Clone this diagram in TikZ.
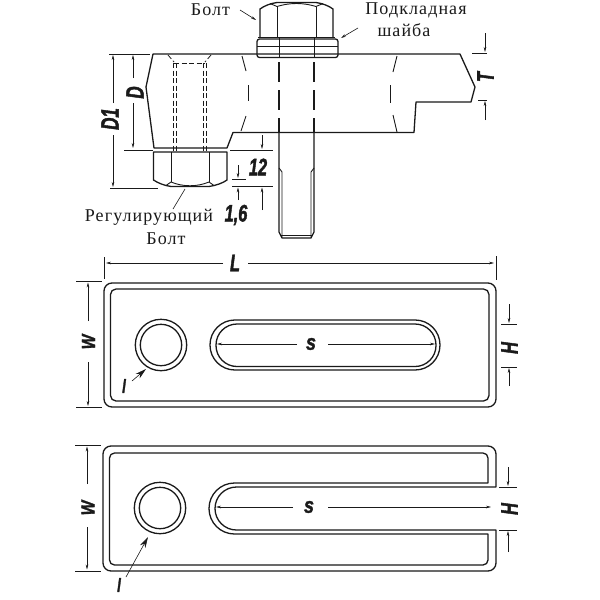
\documentclass[tikz,border=0pt]{standalone}
\usepackage{fontspec}
\setmainfont{Liberation Serif}
\newfontfamily\capfont[LetterSpace=6]{Liberation Serif}
\newfontfamily\dimfont[FakeStretch=0.68,FakeBold=1.6]{Liberation Sans}
\newfontfamily\widefont[FakeStretch=0.82,FakeBold=1.6]{Liberation Sans}
\usetikzlibrary{arrows.meta}
\definecolor{ink}{HTML}{1A1A1A}
\tikzset{
  x=1pt,y=-1pt,
  outline/.style={draw=ink,line width=1.3pt,line join=round},
  thinline/.style={draw=ink,line width=0.9pt},
  hidden/.style={draw=ink,line width=0.8pt,dash pattern=on 5pt off 2.5pt},
  longdash/.style={draw=ink,line width=1.1pt,dash pattern=on 20pt off 8pt},
  ext/.style={draw=ink,line width=0.8pt},
  dimline/.style={draw=ink,line width=0.6pt,-{Stealth[length=5pt,width=2.6pt]}},
  bigarrow/.style={draw=ink,line width=0.6pt,-{Stealth[length=11pt,width=6pt]}},
  caption/.style={font=\capfont\fontsize{18}{18}\selectfont,text=ink,inner sep=0pt},
  dimlabel/.style={font=\dimfont\bfseries\itshape\fontsize{#1}{#1}\selectfont,text=ink,inner sep=0pt},
  widelabel/.style={font=\widefont\bfseries\itshape\fontsize{#1}{#1}\selectfont,text=ink,inner sep=0pt},
  vert/.style={rotate=90},
}
\begin{document}
\begin{tikzpicture}
\useasboundingbox (0,0) rectangle (600,600);
\fill[white] (0,0) rectangle (600,600);

% ---- side view: body
\draw[outline] (153,54) -- (146,87) -- (154,148) -- (227,148) -- (233,132.5) -- (414,132.5)
  -- (416,102) -- (471,102) -- (475,87) -- (460,54) -- cycle;
% break lines
\draw[thinline] (242,56) -- (246,71);
\draw[thinline] (248.5,85) -- (248.5,101);
\draw[thinline] (246,116) -- (241,131);
\draw[thinline] (397,56) -- (393,72);
\draw[thinline] (390.5,85) -- (390.5,103);
\draw[thinline] (393,115) -- (397,132);
% hidden threaded hole
\draw[hidden] (168,55) -- (174,62);
\draw[hidden] (211,55) -- (205,62);
\draw[hidden] (174,63) -- (205,63);
\foreach \hx in {173,176,203,206} \draw[hidden] (\hx,63) -- (\hx,152);

% lower nut
\draw[outline] (153.5,152) -- (227,152) -- (227,180) .. controls (223,183) and (216,185.5) .. (209,186.5)
  -- (171,186.5) .. controls (164,185.5) and (158,183) .. (153.5,180) -- cycle;
\draw[thinline] (171,152) -- (171,182);
\draw[thinline] (209,152) -- (209,182);
\draw[thinline] (171,182) .. controls (183,187) and (197,187) .. (209,182);
\draw[thinline] (171,182) -- (166,185.5);
\draw[thinline] (209,182) -- (214,185.5);

% upper bolt head
\draw[outline] (260,37) -- (260,9) .. controls (264,6) and (270,3.5) .. (277,2.5) -- (316,2.5)
  .. controls (323,3.5) and (329,6) .. (333,9) -- (333,37);
\draw[thinline] (277,37) -- (277,6.5);
\draw[thinline] (316,37) -- (316,6.5);
\draw[thinline] (277,6.5) .. controls (290,2.5) and (303,2.5) .. (316,6.5);
\draw[thinline] (270,3.5) -- (277,6.5);
\draw[thinline] (323,3.5) -- (316,6.5);
% washer
\draw[outline,rounded corners=2.5pt] (257,39) rectangle (338,57.5);
\draw[thinline] (258,37.5) -- (335,37.5);
\draw[thinline] (257,46) -- (338,46);
\draw[thinline] (279,38) -- (279,57);
\draw[thinline] (314,38) -- (314,57);
% shaft
\draw[longdash] (279,62) -- (279,132);
\draw[longdash] (314,62) -- (314,132);
\draw[outline] (279,132.5) -- (279,232) -- (282,238) -- (311,238) -- (314,232) -- (314,132.5);
\draw[thinline] (279,168) -- (282,172) -- (282,237);
\draw[thinline] (314,168) -- (311,172) -- (311,237);
\draw[thinline] (280,235.5) -- (313,235.5);

% side view dimensions
\draw[ext] (109,54) -- (150,54);
\draw[ext] (110,188) -- (158,188);
\draw[ext] (124,150.5) -- (153,150.5);
\draw[ext] (230,150.5) -- (273,150.5);
\draw[ext] (232,186) -- (273,186);
\draw[ext] (232,179) -- (246,179);
\draw[ext] (472,53) -- (487,53);
\draw[ext] (478,100) -- (487,100);

\node[dimlabel=25,vert] (dOne) at (110,119) {D1};
\coordinate (dOneTop) at (113,55);
\coordinate (dOneBot) at (113,187);
\draw[dimline] (113,103) -- (dOneTop);
\draw[dimline] (113,135) -- (dOneBot);
\node[dimlabel=25,vert] (dTwo) at (135,92.5) {D};
\coordinate (dTwoTop) at (133,55);
\coordinate (dTwoBot) at (133,148);
\draw[dimline] (133,78) -- (dTwoTop);
\draw[dimline] (133,103) -- (dTwoBot);

\node[dimlabel=24] (twelve) at (258,167) {12};
\draw[dimline] (262,135) -- (262,149);
\draw[dimline] (262,210) -- (262,187.5);
\draw[dimline] (238,165) -- (238,178);
\draw[dimline] (238,200) -- (238,187.5);
\node[dimlabel=24] (onesix) at (236,215) {1,6};

\node[dimlabel=24,vert] (tee) at (485.5,77) {T};
\draw[dimline] (485,33) -- (485,52);
\draw[dimline] (485,120) -- (485,101);

% captions and their leaders
\node[caption] (bolt) at (210.5,10) {Болт};
\coordinate (boltTip) at (256,20);
\draw[dimline] (240,10) -- (boltTip);
\node[caption] (washerA) at (416,10.5) {Подкладная};
\node[caption] (washerB) at (404,30.5) {шайба};
\coordinate (washerTip) at (341,38);
\draw[dimline] (358,28) -- (washerTip);
\node[caption] (regA) at (149,217) {Регулирующий};
\node[caption] (regB) at (166,239) {Болт};
\coordinate (regTip) at (185,189);
\coordinate (regTail) at (173,209);
\draw[thinline,line width=0.6pt] (regTail) -- (regTip);

% ---- plate with closed slot
\draw[outline,rounded corners=8pt] (104,283) rectangle (496,407);
\draw[outline,rounded corners=5.5pt] (110.5,289) rectangle (489,401);
\draw[outline] (161,345) circle[radius=25.7];
\draw[outline] (161,345) circle[radius=20.7];
\draw[outline,rounded corners=24.9pt] (210,320) rectangle (440,370);
\draw[outline,rounded corners=21pt] (216,324) rectangle (436,366.5);

\draw[ext] (104,257) -- (104,279);
\draw[ext] (496,256) -- (496,280);
\node[dimlabel=24] (ell) at (235,263) {L};
\draw[dimline] (223,263) -- (106,263);
\draw[dimline] (248,263) -- (494,263);

\node[widelabel=22] (essA) at (311,344) {s};
\draw[dimline] (297,344) -- (217,344);
\draw[dimline] (328,344) -- (435,344);

\draw[ext] (76,281) -- (102,281);
\draw[ext] (76,407.5) -- (102,407.5);
\node[widelabel=19,vert] (dubA) at (88.5,342) {W};
\draw[dimline] (88,321) -- (88,282.5);
\draw[dimline] (88,362) -- (88,406);

\draw[ext] (501,324) -- (517,324);
\draw[ext] (501,367) -- (517,367);
\node[dimlabel=24,vert] (aitchA) at (509.5,348) {H};
\draw[dimline] (509,304) -- (509,323);
\draw[dimline] (509,386) -- (509,368);

\node[dimlabel=19] (ellA) at (124,386) {l};
\coordinate (holeTipA) at (146,369);
\draw[bigarrow] (132,381) -- (holeTipA);

% ---- plate with open slot
\draw[outline] (496,487) -- (496,454) arc[start angle=0,end angle=-90,radius=8] -- (111,446)
  arc[start angle=-90,end angle=-180,radius=8] -- (103,563)
  arc[start angle=180,end angle=90,radius=8] -- (488,571)
  arc[start angle=90,end angle=0,radius=8] -- (496,530) -- (236.5,530)
  arc[start angle=90,end angle=270,radius=21.5] -- cycle;
\draw[outline] (488,483) -- (488,458) arc[start angle=0,end angle=-90,radius=5] -- (114.5,453)
  arc[start angle=-90,end angle=-180,radius=5] -- (109.5,560)
  arc[start angle=180,end angle=90,radius=5] -- (483,565)
  arc[start angle=90,end angle=0,radius=5] -- (488,534) -- (234.5,534)
  arc[start angle=90,end angle=270,radius=25.5] -- cycle;
\draw[outline] (160,508) circle[radius=25.7];
\draw[outline] (160,508) circle[radius=20.7];

\node[widelabel=22] (essB) at (309,507) {s};
\draw[dimline] (293,507) -- (216,507);
\draw[dimline] (328,507) -- (491,507);

\draw[ext] (75,445) -- (101,445);
\draw[ext] (75,571) -- (101,571);
\node[widelabel=19,vert] (dubB) at (88,508) {W};
\draw[dimline] (87,484) -- (87,446.5);
\draw[dimline] (87,527) -- (87,569.5);

\draw[ext] (499,487) -- (517,487);
\draw[ext] (499,530) -- (517,530);
\node[dimlabel=24,vert] (aitchB) at (509.5,509) {H};
\draw[dimline] (508,467) -- (508,486);
\draw[dimline] (508,552) -- (508,531);

\node[dimlabel=19] (ellB) at (119,585) {l};
\coordinate (holeTipB) at (148,537);
\draw[bigarrow] (126,577) -- (holeTipB);
\end{tikzpicture}
\end{document}
